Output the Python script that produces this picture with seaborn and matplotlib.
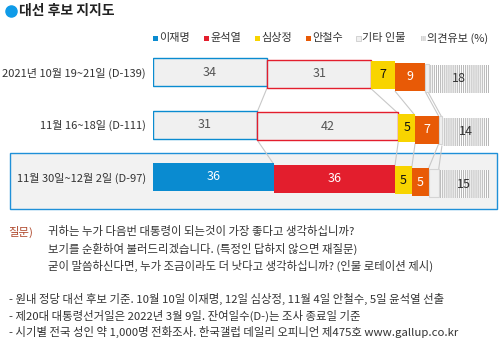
import numpy as np
import pandas as pd
import seaborn as sns
import matplotlib
matplotlib.use("Agg")
import matplotlib.pyplot as plt
from matplotlib.patches import Rectangle
from matplotlib.lines import Line2D

# ---------------- data ----------------
rows = ["2021년 10월 19~21일 (D-139)", "11월 16~18일 (D-111)", "11월 30일~12월 2일 (D-97)"]
lee = [34, 31, 36]
yoon = [31, 42, 36]
sim = [7, 5, 5]
ahn = [9, 7, 5]
other = [1, 1, 3]
undecided = [18, 14, 15]
series_names = ["이재명", "윤석열", "심상정", "안철수", "기타 인물", "의견유보 (%)"]

title = "대선 후보 지지도"
q_label = "질문)"
question = ["귀하는 누가 다음번 대통령이 되는것이 가장 좋다고 생각하십니까?",
            "보기를 순환하여 불러드리겠습니다. (특정인 답하지 않으면 재질문)",
            "굳이 말씀하신다면, 누가 조금이라도 더 낫다고 생각하십니까? (인물 로테이션 제시)"]
notes = ["- 원내 정당 대선 후보 기준. 10월 10일 이재명, 12일 심상정, 11월 4일 안철수, 5일 윤석열 선출",
         "- 제20대 대통령선거일은 2022년 3월 9일. 잔여일수(D-)는 조사 종료일 기준",
         "- 시기별 전국 성인 약 1,000명 전화조사. 한국갤럽 데일리 오피니언 제475호 www.gallup.co.kr"]

df = pd.DataFrame({"row": rows, "이재명": lee, "윤석열": yoon, "심상정": sim,
                   "안철수": ahn, "기타 인물": other, "의견유보 (%)": undecided})

# ---------------- style ----------------
sns.set_theme(style="white")
plt.rcParams['font.family'] = ['Noto Sans CJK KR', 'DejaVu Sans']
plt.rcParams['hatch.linewidth'] = 0.7

BLUE = "#0a8bd0"
RED = "#e31e2d"
YEL = "#f8d400"
ORA = "#e85a06"
LGRAY = "#f0f0f0"
HGRAY = "#b4b4b4"
LINE = "#c8c8c8"

W, H = 503, 342
fig = plt.figure(figsize=(W / 100, H / 100), dpi=100)
fig.patch.set_facecolor("white")

def fx(px):
    return px / W

def fy(py):
    return 1 - py / H

# axes: x 0..100 maps to px 153..489; rows centred at 72,124.5,177 px
row_pitch = 52.5
top_px = 72 - row_pitch / 2
bot_px = 177 + row_pitch / 2
ax = fig.add_axes([fx(153), fy(bot_px), fx(489) - fx(153), (bot_px - top_px) / H])
ax.set_xlim(0, 100)
ax.set_ylim(2.5, -0.5)
ax.patch.set_alpha(0)
for s in ax.spines.values():
    s.set_visible(False)
ax.set_xticks([])
ax.set_yticks(range(len(rows)))
ax.set_yticklabels(rows, fontsize=8, color="#333333")
ax.tick_params(axis="y", length=0, pad=5)

# highlighted background for latest row
ax.add_patch(Rectangle((fx(10), fy(209)), fx(497) - fx(10), 56 / H,
                       transform=fig.transFigure, facecolor="#f2f2f2",
                       edgecolor="#1f90d8", lw=1.0, clip_on=False, zorder=0))

bar_h = 28 / row_pitch
seg_dy = np.array([0, 1.5, 3, 5, 5.5, 7]) / row_pitch
cols = series_names
vals = df[cols].to_numpy(dtype=float)
lefts = np.hstack([np.zeros((len(rows), 1)), np.cumsum(vals, axis=1)[:, :-1]])
n = len(rows)
latest = n - 1

for r in range(n):
    for k, c in enumerate(cols):
        v = vals[r, k]
        if v <= 0:
            continue
        y = r + seg_dy[k]
        left = lefts[r, k]
        if k in (0, 1):
            if r == latest:
                fc, ec, lw, tc = (BLUE if k == 0 else RED), "none", 0, "white"
            else:
                fc, ec, lw, tc = LGRAY, (BLUE if k == 0 else RED), 1.0, "#555555"
            ax.barh(y, v, left=left, height=bar_h, color=fc, edgecolor=ec, lw=lw, zorder=3)
        elif k == 2:
            ax.barh(y, v, left=left, height=bar_h, color=YEL, lw=0, zorder=3)
            tc = "#111111"
        elif k == 3:
            ax.barh(y, v, left=left, height=bar_h, color=ORA, lw=0, zorder=3)
            tc = "white"
        elif k == 4:
            ax.barh(y, v, left=left, height=bar_h, color=LGRAY, edgecolor="#d4d4d4", lw=0.8, zorder=3)
            tc = None
        else:
            ax.barh(y, v - 0.3, left=left + 0.3, height=bar_h, color="white", edgecolor=HGRAY,
                    hatch="|" * 8, lw=0, zorder=3)
            tc = "#333333"
        if tc is not None:
            ax.text(left + v / 2, y, f"{int(v)}", ha="center", va="center",
                    fontsize=9, color=tc, zorder=5)

# connector lines between rows
bounds = np.cumsum(vals, axis=1)
for r in range(n - 1):
    for k in range(len(cols) - 1):
        x0 = bounds[r, k]
        x1 = bounds[r + 1, k]
        y0 = r + seg_dy[k + 1] + bar_h / 2
        y1 = r + 1 + seg_dy[k + 1] - bar_h / 2
        ax.plot([x0, x1], [y0, y1], color=LINE, lw=0.8, zorder=2, solid_capstyle="butt")

# legend
leg_colors = [(BLUE, "none", None), (RED, "none", None), (YEL, "none", None),
              (ORA, "none", None), (LGRAY, "#cccccc", None), ("white", HGRAY, "|" * 8)]
leg_x = [153, 204, 255, 306, 356, 421]
sq = 5
for (fc, ec, hatch), x, name in zip(leg_colors, leg_x, series_names):
    p = Rectangle((fx(x), fy(38 + sq / 2)), sq / W, sq / H, transform=fig.transFigure,
                  facecolor=fc, edgecolor=ec, lw=0.6 if hatch is None else 0, hatch=hatch)
    fig.add_artist(p)
    fig.text(fx(x + sq + 1), fy(38), name, fontsize=8, color="#333333", va="center", ha="left")

# title
fig.add_artist(Line2D([fx(11)], [fy(11)], marker="o", markersize=8, color="#0f9be8",
                      transform=fig.transFigure))
fig.text(fx(19), fy(11), title, fontsize=10, fontweight="bold", color="#222222",
         va="center", ha="left")

# question & notes
fs = 8.2
fig.text(fx(8), fy(232), q_label, fontsize=fs, color="#b04a2e", va="center", ha="left")
for yy, line in zip([232, 249, 266], question):
    fig.text(fx(48), fy(yy), line, fontsize=fs, color="#333333", va="center", ha="left")
for yy, line in zip([299, 316, 332], notes):
    fig.text(fx(9), fy(yy), line, fontsize=fs, color="#333333", va="center", ha="left")

fig.savefig("out.png", dpi=100)
